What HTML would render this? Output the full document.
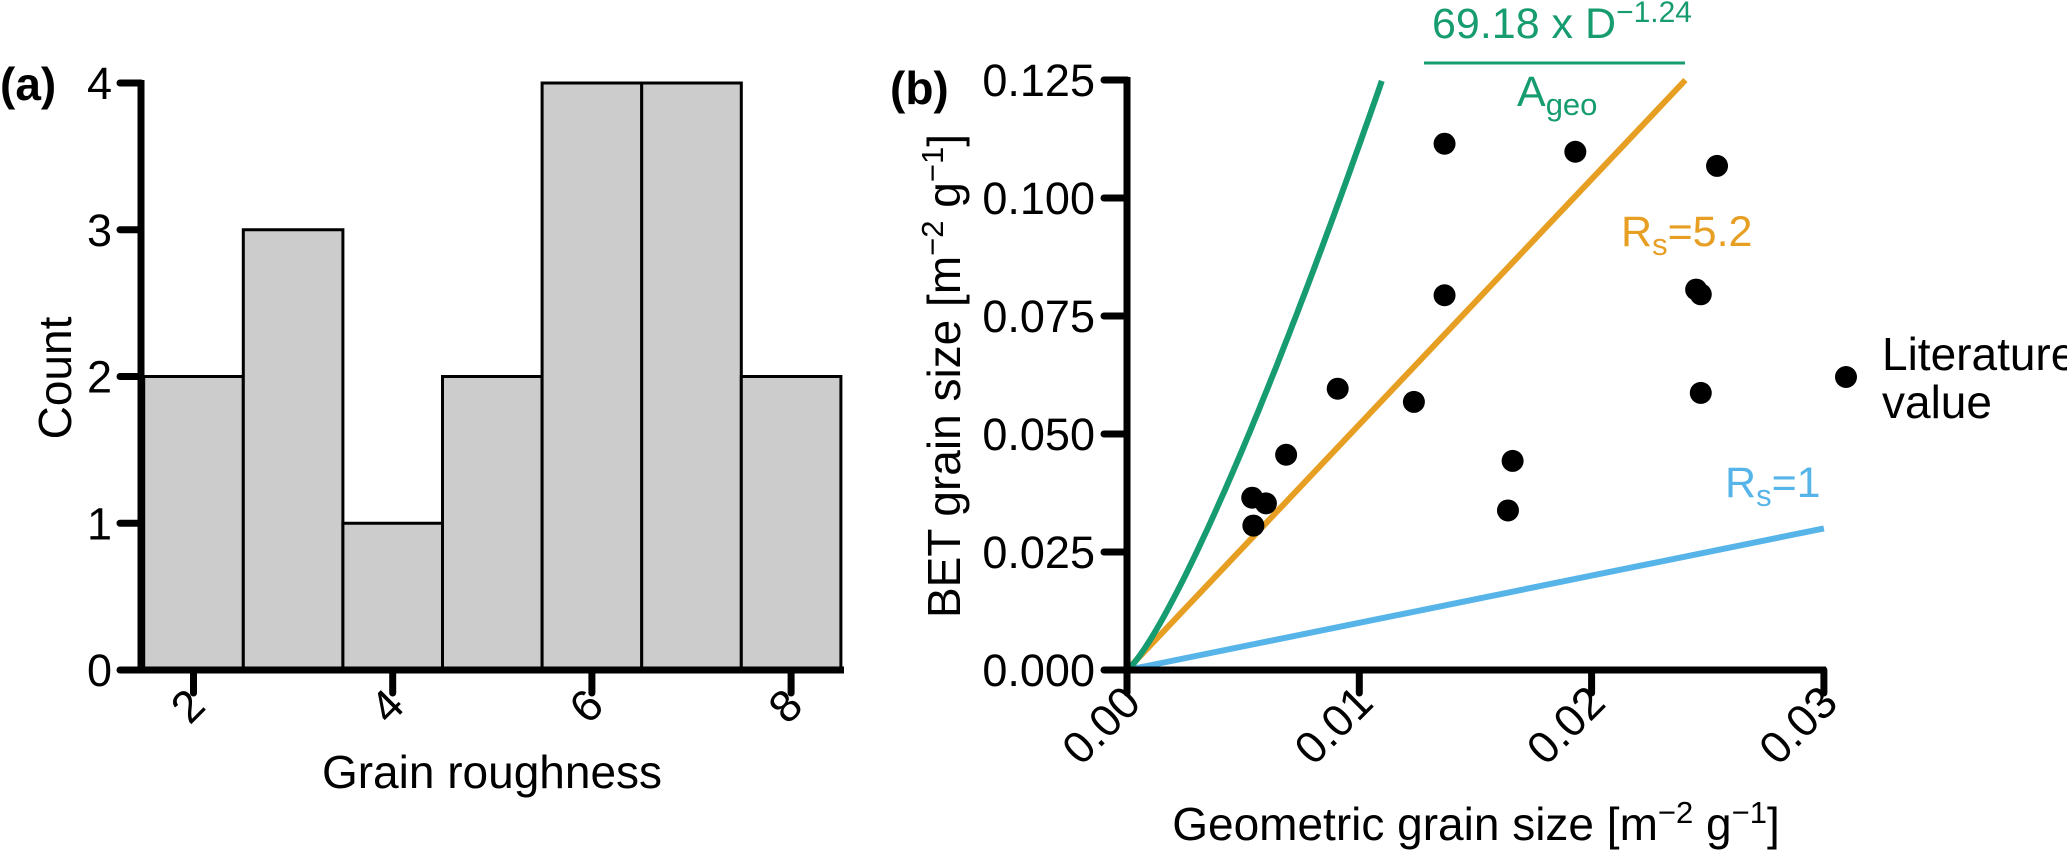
<!DOCTYPE html>
<html><head><meta charset="utf-8"><style>
html,body{margin:0;padding:0;background:#fff;}
svg{display:block;font-family:"Liberation Sans",Arial,sans-serif;}
</style></head><body>
<svg id="fig" width="2067" height="852" viewBox="0 0 2067 852" xmlns="http://www.w3.org/2000/svg">
<g id="pa"></g>
<g id="pb"></g>
</svg>
<script>
// Panel (a) data
const binCenters = [2,3,4,5,6,7,8];
const binCounts = [2,3,1,2,4,4,2];
const aXTicks = [2,4,6,8];
const aYTicks = [0,1,2,3,4];
// Panel (b) data
const geoSize = [0.01367,0.0193,0.0254,0.01367,0.0245,0.0247,0.00907,0.01235,0.0247,0.00685,0.0166,0.00539,0.00598,0.00544,0.0164];
const betSize = [0.1115,0.1098,0.1068,0.0794,0.0806,0.0796,0.0596,0.0568,0.0587,0.0456,0.0443,0.0365,0.0353,0.0306,0.0338];
const bXTicks = ["0.00","0.01","0.02","0.03"];
const bYTicks = ["0.000","0.025","0.050","0.075","0.100","0.125"];
const rsHigh = [5.2];
const rsOne = [1];
const geoCoef = [0.1248, 0.01097, 1.24]; // y at x-ref, x-ref, exponent

const NS="http://www.w3.org/2000/svg";
function mk(parent,tag,attrs,text){const e=document.createElementNS(NS,tag);for(const k in attrs)e.setAttribute(k,attrs[k]);if(text!==undefined)e.textContent=text;parent.appendChild(e);return e;}

// ---------- Panel A ----------
const pa=document.getElementById('pa');
const ax=v=>193.5+(v-2)*99.6;
const ay=v=>670-v*146.75;
binCenters.forEach((c,i)=>{
  const r=mk(pa,'rect',{x:ax(c-0.5),y:ay(binCounts[i]),width:ax(c+0.5)-ax(c-0.5),height:ay(0)-ay(binCounts[i]),fill:'#cccccc',stroke:'#000','stroke-width':3});
  
  
});
let l=mk(pa,'line',{x1:141,y1:80,x2:141,y2:673,stroke:'#000','stroke-width':7});

l=mk(pa,'line',{x1:120,y1:670,x2:844,y2:670,stroke:'#000','stroke-width':7});

aYTicks.forEach(v=>{
  mk(pa,'line',{x1:120,y1:ay(v),x2:141,y2:ay(v),stroke:'#000','stroke-width':7,'stroke-linecap':'round'});
  const t=mk(pa,'text',{x:112,y:ay(v)+16,'text-anchor':'end','font-size':45},String(v));
  
});
aXTicks.forEach(v=>{
  mk(pa,'line',{x1:ax(v),y1:670,x2:ax(v),y2:693,stroke:'#000','stroke-width':7,'stroke-linecap':'round'});
  const t=mk(pa,'text',{x:0,y:0,'text-anchor':'end','font-size':45,transform:`translate(${ax(v)+14},${708}) rotate(-45)`},String(v));
  
});
let t=mk(pa,'text',{x:0,y:0,'text-anchor':'middle','font-size':46,transform:'translate(71,378) rotate(-90)'},'Count');

t=mk(pa,'text',{x:492,y:788,'text-anchor':'middle','font-size':46},'Grain roughness');

t=mk(pa,'text',{x:0,y:100,'font-size':46,'font-weight':'bold'},'(a)');


// ---------- Panel B ----------
const pb=document.getElementById('pb');
const bx=v=>1127+v/0.01*232.3;
const by=v=>670-v/0.025*118;
function lineTo(slope,xEnd,color,name){
  const p=mk(pb,'line',{x1:bx(0),y1:by(0),x2:bx(xEnd),y2:by(slope*xEnd),stroke:color,'stroke-width':6});
  
}
lineTo(rsOne[0],0.03,'#56b4e9','rs-1-line');
lineTo(rsHigh[0],0.125/rsHigh[0],'#e69f22','rs-5.2-line');
let d='';
for(let i=0;i<=60;i++){const xv=geoCoef[1]*i/60;const yv=geoCoef[0]*Math.pow(xv/geoCoef[1],geoCoef[2]);d+=(i?'L':'M')+bx(xv).toFixed(1)+','+by(yv).toFixed(1);}
let p=mk(pb,'path',{d:d,fill:'none',stroke:'#169c70','stroke-width':6});

l=mk(pb,'line',{x1:1127,y1:77,x2:1127,y2:673,stroke:'#000','stroke-width':7});

l=mk(pb,'line',{x1:1104,y1:670,x2:1826,y2:670,stroke:'#000','stroke-width':7});

bYTicks.forEach(s=>{
  const v=parseFloat(s);
  mk(pb,'line',{x1:1104,y1:by(v),x2:1127,y2:by(v),stroke:'#000','stroke-width':7,'stroke-linecap':'round'});
  const e=mk(pb,'text',{x:1095,y:by(v)+16,'text-anchor':'end','font-size':45},s);
  
});
bXTicks.forEach(s=>{
  const v=parseFloat(s);
  mk(pb,'line',{x1:bx(v),y1:670,x2:bx(v),y2:693,stroke:'#000','stroke-width':7,'stroke-linecap':'round'});
  const e=mk(pb,'text',{x:0,y:0,'text-anchor':'end','font-size':45,transform:`translate(${bx(v)+16},${705}) rotate(-45)`},s);
  
});
geoSize.forEach((g,i)=>{
  const c=mk(pb,'circle',{cx:bx(g),cy:by(betSize[i]),r:11,fill:'#000'});
  
  
});
let lg=mk(pb,'circle',{cx:1846,cy:377,r:11,fill:'#000'});

t=mk(pb,'text',{x:1882,y:370,'font-size':46},'Literature');

t=mk(pb,'text',{x:1882,y:418,'font-size':46},'value');

t=mk(pb,'text',{x:1432,y:38,'font-size':43,fill:'#169c70'});
t.innerHTML='69.18 x D<tspan dy="-16" font-size="30">\u22121.24</tspan>';

l=mk(pb,'line',{x1:1424,y1:63,x2:1685,y2:63,stroke:'#169c70','stroke-width':3});

t=mk(pb,'text',{x:1517,y:106,'font-size':43,fill:'#169c70'});
t.innerHTML='A<tspan dy="9" font-size="31">geo</tspan>';

t=mk(pb,'text',{x:1621,y:246,'font-size':43,fill:'#e69f22'});
t.innerHTML='R<tspan dy="9" font-size="31">s</tspan><tspan dy="-9">=5.2</tspan>';

t=mk(pb,'text',{x:1725,y:497,'font-size':43,fill:'#56b4e9'});
t.innerHTML='R<tspan dy="9" font-size="31">s</tspan><tspan dy="-9">=1</tspan>';

t=mk(pb,'text',{x:0,y:0,'text-anchor':'middle','font-size':46,transform:'translate(960,376) rotate(-90)'});
t.innerHTML='BET grain size [m<tspan dy="-17" font-size="31">\u22122</tspan><tspan dy="17"> g</tspan><tspan dy="-17" font-size="31">\u22121</tspan><tspan dy="17">]</tspan>';

t=mk(pb,'text',{x:1476,y:840,'text-anchor':'middle','font-size':46});
t.innerHTML='Geometric grain size [m<tspan dy="-17" font-size="31">\u22122</tspan><tspan dy="17"> g</tspan><tspan dy="-17" font-size="31">\u22121</tspan><tspan dy="17">]</tspan>';

t=mk(pb,'text',{x:890,y:104,'font-size':46,'font-weight':'bold'},'(b)');

</script>
</body></html>
